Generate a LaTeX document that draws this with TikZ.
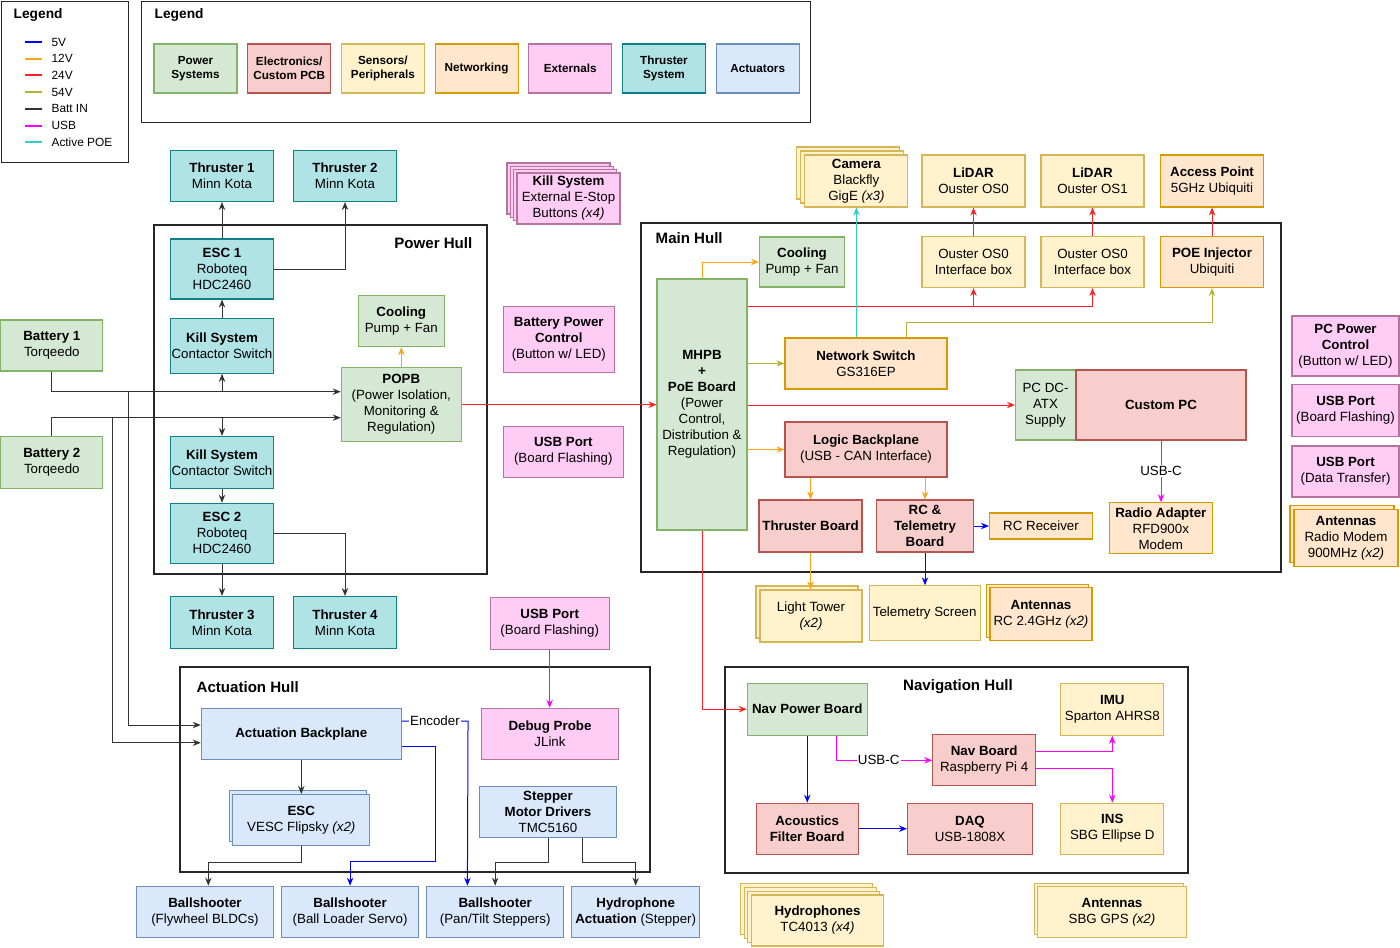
\documentclass[tikz,border=0pt]{standalone}
\usepackage{fontspec}
\setmainfont{Liberation Sans}
\usetikzlibrary{arrows.meta,positioning,calc,shadows}

\definecolor{pwrfill}{HTML}{D5E8D4}\definecolor{pwrline}{HTML}{82B366}
\definecolor{elecfill}{HTML}{F8CECC}\definecolor{elecline}{HTML}{B85450}
\definecolor{sensfill}{HTML}{FFF2CC}\definecolor{sensline}{HTML}{D6B656}
\definecolor{netfill}{HTML}{FFE6CC}\definecolor{netline}{HTML}{D79B00}
\definecolor{extfill}{HTML}{FFCCF5}\definecolor{extline}{HTML}{B5739D}
\definecolor{thrfill}{HTML}{B0E3E6}\definecolor{thrline}{HTML}{0E8088}
\definecolor{actfill}{HTML}{DAE8FC}\definecolor{actline}{HTML}{6C8EBF}
\definecolor{cfive}{HTML}{0000FF}
\definecolor{ctwelve}{HTML}{FFA31A}
\definecolor{ctwentyfour}{HTML}{FF2020}
\definecolor{cfiftyfour}{HTML}{B3B33C}
\definecolor{battc}{HTML}{333333}
\definecolor{usbc}{HTML}{FF00FF}
\definecolor{poec}{HTML}{33CCCC}

\tikzset{
  blk/.style={draw,rectangle,align=center,inner sep=1pt,line width=0.8pt,font=\fontsize{10}{12}\selectfont},
  sz/.style 2 args={minimum width=#1*0.75pt,minimum height=#2*0.75pt},
  pwrblk/.style={blk,fill=pwrfill,draw=pwrline},
  elecblk/.style={blk,fill=elecfill,draw=elecline},
  sensblk/.style={blk,fill=sensfill,draw=sensline},
  netblk/.style={blk,fill=netfill,draw=netline},
  extblk/.style={blk,fill=extfill,draw=extline},
  thrblk/.style={blk,fill=thrfill,draw=thrline},
  actblk/.style={blk,fill=actfill,draw=actline},
  legbox/.style={font=\fontsize{8.8}{10.5}\selectfont\bfseries},
  stack/.style={copy shadow={shadow xshift=-#1,shadow yshift=#1}},
  frame/.style={draw=black!85,line width=0.75pt,rectangle,anchor=north west,inner sep=0pt},
  hull/.style={draw=black!85,line width=1.5pt,rectangle,anchor=north west,inner sep=0pt},
  hulltitle/.style={font=\fontsize{11.3}{13}\selectfont\bfseries},
  legtitle/.style={font=\fontsize{10.3}{12}\selectfont\bfseries},
  legtxt/.style={font=\fontsize{8.9}{10}\selectfont,inner sep=1pt},
  swatch/.style={line width=1.5pt},
  wire/.style={-{Stealth[length=6pt,width=4.8pt]},line width=0.75pt},
  wb/.style={wire,draw=battc},
  w5/.style={wire,draw=cfive},
  w12/.style={wire,draw=ctwelve},
  w24/.style={wire,draw=ctwentyfour},
  w54/.style={wire,draw=cfiftyfour},
  wusb/.style={wire,draw=usbc},
  wpoe/.style={wire,draw=poec},
  lbl/.style={fill=white,inner sep=1pt,font=\fontsize{10}{12}\selectfont}
}

\begin{document}
\begin{tikzpicture}[x=0.75pt,y=-0.75pt]
  \useasboundingbox (0,0) rectangle (1400,947);
  \fill[white] (0,0) rectangle (1400,947);

  % Legend of wire colours
  \node[frame, sz={127}{161}] (legw) at (1,1) {};
  \node[legtitle, anchor=west] (legwt) at (9,15) {Legend};
  \foreach \st/\txt [count=\i] in {w5/5V,w12/12V,w24/24V,w54/54V,wb/Batt IN,wusb/USB,wpoe/Active POE}{
    \draw[\st, swatch, -] (25,{25.3+16.7*\i}) -- ++(17,0);
    \node[legtxt, anchor=west] (lw\i) at (50,{25.3+16.7*\i}) {\txt};
  }

  % Legend of block colours
  \node[frame, sz={669}{121}] (legb) at (141,1) {};
  \node[legtitle, anchor=west] (legbt) at (150,15) {Legend};
  \foreach \s/\txt [count=\i] in {pwrblk/{Power\\Systems},elecblk/{Electronics/\\Custom PCB},sensblk/{Sensors/\\Peripherals},netblk/Networking,extblk/Externals,thrblk/{Thruster\\System},actblk/Actuators}{
    \node[\s, legbox, sz={83}{49}] (lb\i) at ({195.5+93.7*(\i-1)},68.5) {\txt};
  }

  % Hull outlines
  \node[hull, sz={333}{349}] (phull) at (153,224) {};
  \node[hulltitle, anchor=east] (phullt) at (477,243) {Power Hull};
  \node[hull, sz={640}{349}] (mhull) at (640,222) {};
  \node[hulltitle, anchor=west] (mhullt) at (651,238) {Main Hull};
  \node[hull, sz={470}{205}] (ahull) at (179,666) {};
  \node[hulltitle, anchor=west] (ahullt) at (192,687) {Actuation Hull};
  \node[hull, sz={463}{206}] (nhull) at (724,666) {};
  \node[hulltitle] (nhullt) at (958,687) {Navigation Hull};

  % Power hull and batteries
  \node[thrblk, sz={103}{51}] (thr1) at (222,176) {\textbf{Thruster 1}\\Minn Kota};
  \node[thrblk, sz={103}{51}] (thr2) at (345,176) {\textbf{Thruster 2}\\Minn Kota};
  \node[thrblk, sz={103}{60}] (esc1) at (222,269) {\textbf{ESC 1}\\Roboteq\\HDC2460};
  \node[thrblk, sz={103}{55}] (kill1) at (222,345.8) {\textbf{Kill System}\\Contactor Switch};
  \node[pwrblk, sz={86}{51}] (coolP) at (401.3,321.2) {\textbf{Cooling}\\Pump + Fan};
  \node[pwrblk, sz={120}{74}] (popb) at (401.3,404.7) {\textbf{POPB}\\(Power Isolation,\\Monitoring \&\\Regulation)};
  \node[pwrblk, sz={102}{51}] (bat1) at (51.8,345.5) {\textbf{Battery 1}\\Torqeedo};
  \node[pwrblk, sz={102}{52}] (bat2) at (51.8,462.5) {\textbf{Battery 2}\\Torqeedo};
  \node[thrblk, sz={103}{52}] (kill2) at (222,462.5) {\textbf{Kill System}\\Contactor Switch};
  \node[thrblk, sz={103}{60}] (esc2) at (222,533.3) {\textbf{ESC 2}\\Roboteq\\HDC2460};
  \node[thrblk, sz={103}{52}] (thr3) at (222,622.5) {\textbf{Thruster 3}\\Minn Kota};
  \node[thrblk, sz={103}{52}] (thr4) at (345,622.5) {\textbf{Thruster 4}\\Minn Kota};

  % Externals in the middle
  \node[extblk, stack=7.5pt, stack=5pt, stack=2.5pt, sz={103}{51}] (killx) at (568.5,198.5) {\textbf{Kill System}\\External E-Stop\\Buttons \textit{(x4)}};
  \node[extblk, sz={111}{66}] (bpc) at (558.8,339.7) {\textbf{Battery Power}\\\textbf{Control}\\(Button w/ LED)};
  \node[extblk, sz={120}{51}] (usb1) at (563.3,451.7) {\textbf{USB Port}\\(Board Flashing)};
  \node[extblk, sz={119}{52}] (usb3) at (549.7,623.2) {\textbf{USB Port}\\(Board Flashing)};

  % Main hull
  \node[pwrblk, sz={90}{251}] (mhpb) at (702,404.5) {\textbf{MHPB}\\\textbf{+}\\\textbf{PoE Board}\\(Power\\Control,\\Distribution \&\\Regulation)};
  \node[pwrblk, sz={85}{50}] (coolM) at (802,262) {\textbf{Cooling}\\Pump + Fan};
  \node[sensblk, stack=6pt, stack=3pt, sz={103}{52}] (cam) at (856.4,181) {\textbf{Camera}\\Blackfly\\GigE \textit{(x3)}};
  \node[sensblk, sz={103}{52}] (lid0) at (973.5,181) {\textbf{LiDAR}\\Ouster OS0};
  \node[sensblk, sz={103}{52}] (lid1) at (1092.5,181) {\textbf{LiDAR}\\Ouster OS1};
  \node[netblk, sz={103}{52}] (ap) at (1212,181) {\textbf{Access Point}\\5GHz Ubiquiti};
  \node[sensblk, sz={103}{51}] (ifb1) at (973.5,262) {Ouster OS0\\Interface box};
  \node[sensblk, sz={103}{51}] (ifb2) at (1092.5,262) {Ouster OS0\\Interface box};
  \node[netblk, sz={103}{51}] (poei) at (1212,262) {\textbf{POE Injector}\\Ubiquiti};
  \node[netblk, sz={162}{51}] (nsw) at (866,363.5) {\textbf{Network Switch}\\GS316EP};
  \node[pwrblk, sz={60}{70}] (pcdc) at (1045.5,405) {PC DC-\\ATX\\Supply};
  \node[elecblk, sz={170}{70}] (pc) at (1161,405) {\textbf{Custom PC}};
  \node[elecblk, sz={162}{55}] (lbp) at (866,449.5) {\textbf{Logic Backplane}\\(USB - CAN Interface)};
  \node[elecblk, sz={103}{52}] (thrb) at (810.5,526) {\textbf{Thruster Board}};
  \node[elecblk, sz={97}{52}] (rcb) at (925,526) {\textbf{RC \&}\\\textbf{Telemetry}\\\textbf{Board}};
  \node[netblk, sz={103}{26}] (rcr) at (1041,526) {RC Receiver};
  \node[netblk, sz={103}{51}] (radio) at (1160.8,528.3) {\textbf{Radio Adapter}\\RFD900x\\Modem};
  \node[sensblk, stack=3pt, sz={102}{52}] (ltw) at (811,616) {Light Tower\\\textit{(x2)}};
  \node[sensblk, sz={111}{55}] (tscr) at (924.7,613.3) {Telemetry Screen};
  \node[netblk, stack=2.6pt, sz={102}{53}] (antrc) at (1041,614.3) {\textbf{Antennas}\\RC 2.4GHz \textit{(x2)}};

  % Externals on the right
  \node[extblk, sz={107}{60}] (pcpc) at (1345.5,346) {\textbf{PC Power}\\\textbf{Control}\\(Button w/ LED)};
  \node[extblk, sz={107}{52}] (usb2) at (1345.5,410.7) {\textbf{USB Port}\\(Board Flashing)};
  \node[extblk, sz={107}{51}] (usbd) at (1345.5,471.5) {\textbf{USB Port}\\(Data Transfer)};
  \node[netblk, stack=3pt, sz={104}{57}] (antrm) at (1346,538) {\textbf{Antennas}\\Radio Modem\\900MHz \textit{(x2)}};

  % Actuation hull
  \node[actblk, sz={200}{51}] (actbp) at (301.3,733.8) {\textbf{Actuation Backplane}};
  \node[extblk, sz={137}{51}] (dbg) at (550,733.8) {\textbf{Debug Probe}\\JLink};
  \node[actblk, stack=2.8pt, sz={137}{51}] (vesc) at (301.3,820) {\textbf{ESC}\\VESC Flipsky \textit{(x2)}};
  \node[actblk, sz={137}{51}] (stp) at (548,811.7) {\textbf{Stepper}\\\textbf{Motor Drivers}\\TMC5160};
  \node[actblk, sz={137}{51}] (bsf) at (205,911.7) {\textbf{Ballshooter}\\(Flywheel BLDCs)};
  \node[actblk, sz={137}{51}] (bsl) at (350.1,911.7) {\textbf{Ballshooter}\\(Ball Loader Servo)};
  \node[actblk, sz={137}{51}] (bsp) at (495.2,911.7) {\textbf{Ballshooter}\\(Pan/Tilt Steppers)};
  \node[actblk, sz={128}{51}] (hyd) at (635.7,911.7) {\textbf{Hydrophone}\\\textbf{Actuation} (Stepper)};

  % Navigation hull
  \node[pwrblk, sz={120}{52}] (navp) at (807.3,709.2) {\textbf{Nav Power Board}};
  \node[sensblk, sz={103}{52}] (imu) at (1112.3,709.2) {\textbf{IMU}\\Sparton AHRS8};
  \node[elecblk, sz={103}{51}] (navb) at (984.2,760.3) {\textbf{Nav Board}\\Raspberry Pi 4};
  \node[elecblk, sz={102}{51}] (acf) at (807.2,828.7) {\textbf{Acoustics}\\\textbf{Filter Board}};
  \node[elecblk, sz={125}{51}] (daq) at (970,828.7) {\textbf{DAQ}\\USB-1808X};
  \node[sensblk, sz={103}{51}] (ins) at (1112.3,828.7) {\textbf{INS}\\SBG Ellipse D};
  \node[sensblk, stack=8.4pt, stack=5.6pt, stack=2.8pt, sz={132}{51}] (hydr) at (817.5,920.5) {\textbf{Hydrophones}\\TC4013 \textit{(x4)}};
  \node[sensblk, stack=2.5pt, sz={149}{51}] (antg) at (1112,912) {\textbf{Antennas}\\SBG GPS \textit{(x2)}};

  % Battery and thruster wiring
  \coordinate (bus1) at (51.8,391.7);
  \coordinate (bus2) at (51.8,417.7);
  \coordinate (tap1) at (128,391.7);
  \coordinate (tap2) at (112,417.7);
  \draw[wb] (esc1) -- (thr1);
  \draw[wb] (esc1.east) -| (thr2.south);
  \draw[wb] (kill1) -- (esc1);
  \draw[wb] (bat1.south) |- (bus1 -| popb.west);
  \draw[wb] (bus1 -| kill1.south) -- (kill1.south);
  \draw[wb] (tap1) |- ([yshift=6.6pt]actbp.west);
  \draw[wb] (bat2.north) |- (bus2 -| popb.west);
  \draw[wb] (bus2 -| kill2.north) -- (kill2.north);
  \draw[wb] (tap2) |- ([yshift=-6.7pt]actbp.west);
  \draw[wb] (kill2) -- (esc2);
  \draw[wb] (esc2) -- (thr3);
  \draw[wb] (esc2.east) -| (thr4.north);
  \draw[w12] (popb) -- (coolP);
  \draw[w24] (popb.east) -- (popb.east -| mhpb.west);

  % Main hull wiring
  \draw[w12] (mhpb.north) |- (coolM.west);
  \draw[w24] (mhpb.east |- 0,306) -| (ifb2.south);
  \draw[w24] (ifb1.south |- 0,306) -- (ifb1.south);
  \draw[w24] (ifb1) -- (lid0);
  \draw[w24] (ifb2) -- (lid1);
  \draw[w24] (poei) -- (ap);
  \draw[wpoe] (cam.south |- nsw.north) -- (cam.south);
  \draw[w54] ([xshift=30.3pt]nsw.north) -- ++(0,-15) -| (poei.south);
  \draw[w54] (mhpb.east |- nsw.west) -- (nsw.west);
  \draw[w24] (mhpb.east |- pcdc.west) -- (pcdc.west);
  \draw[w12] (mhpb.east |- lbp.west) -- (lbp.west);
  \draw[w12] (lbp.south -| thrb.north) -- (thrb.north);
  \draw[w12] (lbp.south -| rcb.north) -- (rcb.north);
  \draw[w5] (rcb.east) -- (rcr.west);
  \draw[wusb] (pc.south) -- node[lbl]{USB-C} (pc.south |- radio.north);
  \draw[w24] (mhpb.south) |- (navp.west);
  \draw[w12] (thrb.south) -- (thrb.south |- ltw.north);
  \draw[w5] (rcb.south) -- (rcb.south |- tscr.north);

  % Navigation hull wiring
  \draw[w5] (navp.south) -- (navp.south |- acf.north);
  \draw[wusb] ([xshift=22pt]navp.south) |- node[lbl, pos=0.72]{USB-C} (navb.west);
  \draw[wusb] ([yshift=6.5pt]navb.east) -| (imu.south);
  \draw[wusb] ([yshift=-6pt]navb.east) -| (ins.north);
  \draw[w5] (acf.east) -- (acf.east -| daq.west);

  % Actuation hull wiring
  \draw[wb] (actbp.south) -- (vesc.north);
  \draw[wb] (vesc.south) -- ++(0,16) -| ([xshift=2.5pt]bsf.north);
  \draw[w5] ([yshift=-9.7pt]actbp.east) -- ++(34,0) -- ++(0,115) -| (bsl.north);
  \draw[w5] ([yshift=9.6pt]actbp.east) -- node[lbl]{Encoder} ++(66.2,0) -- ([xshift=-20.85pt]bsp.north);
  \draw[wb] (stp.south) -- ++(0,24.4) -| (bsp.north);
  \draw[wb] ([xshift=25.5pt]stp.south) -- ++(0,24.4) -| (hyd.north);
  \draw[wusb] (usb3.south) -- (usb3.south |- dbg.north);
\end{tikzpicture}
\end{document}
